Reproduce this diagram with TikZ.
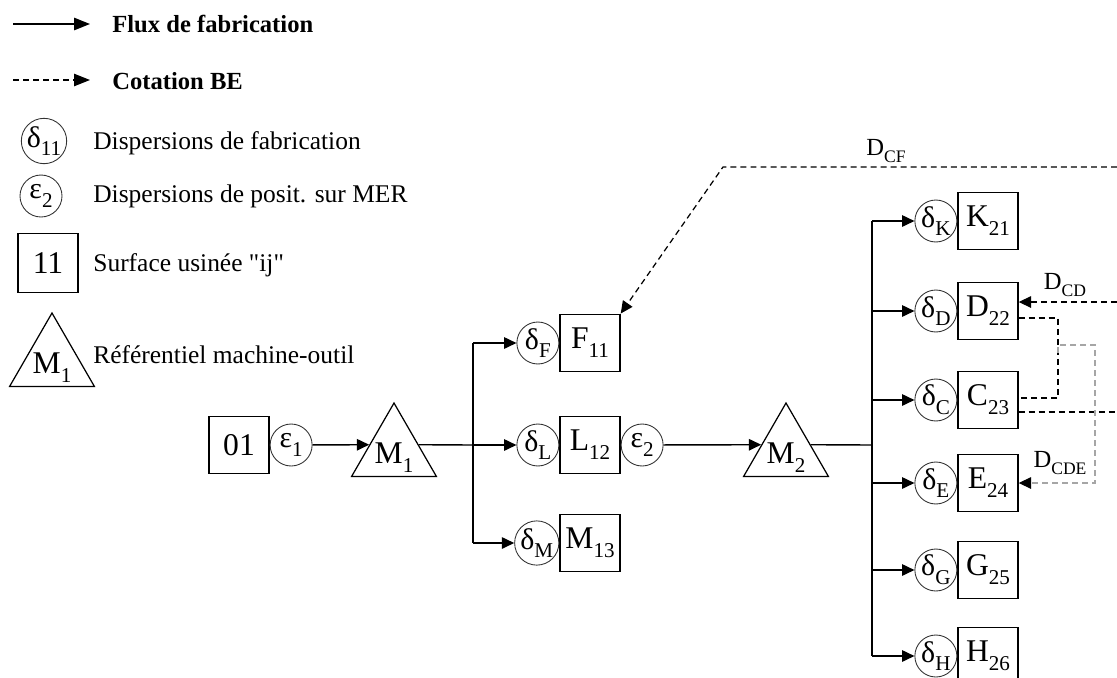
\documentclass[tikz,border=0pt]{standalone}
\usepackage{fontspec}
\setmainfont{Liberation Serif}
\usetikzlibrary{arrows.meta,shapes.geometric,calc,positioning}

\newcommand{\ind}[1]{\raisebox{-5pt}{\fontsize{12}{12}\selectfont #1}}
\newcommand{\indp}[1]{\raisebox{-4pt}{\fontsize{10}{10}\selectfont #1}}

\begin{document}
\begin{tikzpicture}[x=0.02cm, y=-0.02cm,
	txt/.style={anchor=west, inner sep=0pt, font=\fontsize{14.5}{17}\selectfont},
	lbl/.style={inner sep=0pt, font=\fontsize{14}{16}\selectfont},
	surf/.style={draw, line width=0.8pt, minimum width=1.2cm, minimum height=1.15cm, inner sep=0pt, font=\fontsize{18}{20}\selectfont},
	disp/.style={circle, draw=black!80, line width=0.5pt, minimum size=0.84cm, inner sep=0pt, font=\fontsize{17}{18}\selectfont},
	mach/.style={regular polygon, regular polygon sides=3, draw, line width=0.7pt, minimum size=1.96cm, inner sep=0pt,
		label={[font=\fontsize{18}{20}\selectfont, yshift=-3pt]center:M\ind{#1}}},
	flux/.style={line width=0.8pt, -{Triangle[length=7pt,width=6.5pt]}},
	lien/.style={line width=0.7pt, dash pattern=on 3.4pt off 2.3pt},
	cote/.style={lien, -{Triangle[length=7pt,width=6.5pt]}},
	coteg/.style={lien, gray!70, -{Triangle[length=7pt,width=6.5pt,color=black]}}]

	\useasboundingbox (0,0) rectangle (1117,677);
	\clip (0,0) rectangle (1117,677);

	% legende
	\coordinate (fa) at (13,24);
	\coordinate (fb) at (90,24);
	\draw[flux, -{Triangle[length=9pt,width=7pt]}] (fa) -- (fb);
	\node[txt, font=\fontsize{14}{17}\selectfont\bfseries] (tflux) at (112,24) {Flux de fabrication};
	\coordinate (ca) at (13,80);
	\coordinate (cb) at (90,80);
	\draw[cote, -{Triangle[length=9pt,width=7pt]}] (ca) -- (cb);
	\node[txt, font=\fontsize{14}{17}\selectfont\bfseries] (tcote) at (112,81) {Cotation BE};

	\node[disp] (ldelta) at (44,141) {δ\ind{11}};
	\node[txt] (tdelta) at (93,143) {Dispersions de fabrication};
	\node[disp] (leps) at (41,196) {ε\ind{2}};
	\node[txt] (teps) at (93,196) {Dispersions de posit. sur MER};
	\node[surf, minimum height=1.18cm] (lsurf) at (48,263) {11};
	\node[txt] (tsurf) at (93,265) {Surface usinée \textquotedbl ij\textquotedbl};
	\node[mach=1] (lmach) at (52,362) {};
	\node[txt] (tmach) at (93,355) {Référentiel machine-outil};

	% phase 1
	\node[surf] (s01) at (239,445) {01};
	\node[disp, right=0pt of s01] (e1) {ε\ind{1}};
	\node[mach=1] (m1) at (394,452) {};
	\draw[flux] (e1) -- ($(m1.corner 2)!0.43!(m1.corner 1)$);
	\coordinate (j1) at (473,445);
	\draw[line width=0.8pt] ($(m1.corner 3)!0.43!(m1.corner 1)$) -- (j1);
	\foreach \nom/\lettre/\num/\y in {f11/F/11/343, l12/L/12/445, m13/M/13/543} {
		\node[surf] (\nom) at (590,\y) {\lettre\ind{\num}};
		\node[disp, left=0pt of \nom] (d\nom) {δ\ind{\lettre}};
		\draw[flux] (j1 |- d\nom) -- (d\nom);
	}
	\draw[line width=0.8pt] (j1 |- df11) -- (j1 |- dm13);

	% phase 2
	\node[disp, right=0pt of l12] (e2) {ε\ind{2}};
	\node[mach=2] (m2) at (786,452) {};
	\draw[flux] (e2) -- ($(m2.corner 2)!0.43!(m2.corner 1)$);
	\coordinate (j2) at (872,445);
	\draw[line width=0.8pt] ($(m2.corner 3)!0.43!(m2.corner 1)$) -- (j2);
	\foreach \nom/\lettre/\num/\y in {k21/K/21/221, d22/D/22/311, c23/C/23/400, e24/E/24/483, g25/G/25/570, h26/H/26/656} {
		\node[surf] (\nom) at (988,\y) {\lettre\ind{\num}};
		\node[disp, left=0pt of \nom] (d\nom) {δ\ind{\lettre}};
		\draw[flux] (j2 |- d\nom) -- (d\nom);
	}
	\draw[line width=0.8pt] (j2 |- dk21) -- (j2 |- dh26);

	% cotes BE
	\coordinate (cf0) at (1117,167);
	\coordinate (cf1) at (723,167);
	\draw[cote] (cf0) -- (cf1) -- (f11.north east);
	\node[lbl] (lcf) at (886,151) {D\indp{CF}};

	\coordinate (cd0) at (1117,302);
	\draw[cote] (cd0) -- (cd0 -| d22.east);
	\node[lbl] (lcd) at (1065,285) {D\indp{CD}};
	\coordinate (dc1) at (1058,318);
	\coordinate (dc2) at (1058,398);
	\draw[lien] (d22.east |- dc1) -- (dc1) -- (dc2) -- (c23.east |- dc2);
	\coordinate (c0) at (1117,412);
	\draw[lien] (c23.east |- c0) -- (c0);

	\coordinate (g0) at (1058,353);
	\coordinate (g1) at (1095,345);
	\draw[coteg] (g0) |- (g1) |- (e24.east);
	\node[lbl] (lcde) at (1060,463) {D\indp{CDE}};

\end{tikzpicture}
\end{document}
